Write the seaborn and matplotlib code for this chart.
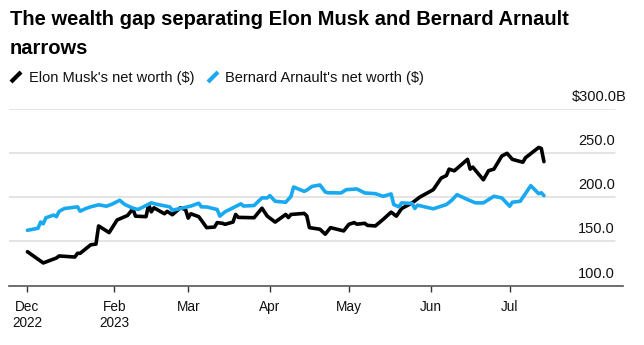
import matplotlib
matplotlib.use("Agg")
import matplotlib.pyplot as plt
import matplotlib.transforms as mtransforms
from matplotlib.lines import Line2D
import seaborn as sns
import pandas as pd

# ---- data ----
musk_dates = [
    "2022-12-30", "2023-01-05", "2023-01-09", "2023-01-10", "2023-01-11", "2023-01-17",
    "2023-01-18", "2023-01-19", "2023-01-23", "2023-01-25", "2023-01-26", "2023-01-30",
    "2023-02-02", "2023-02-06", "2023-02-08", "2023-02-09", "2023-02-13", "2023-02-14",
    "2023-02-15", "2023-02-16", "2023-02-20", "2023-02-21", "2023-02-23", "2023-02-26",
    "2023-02-28", "2023-03-01", "2023-03-02", "2023-03-05", "2023-03-06", "2023-03-08",
    "2023-03-11", "2023-03-12", "2023-03-14", "2023-03-15", "2023-03-18", "2023-03-19",
    "2023-03-20", "2023-03-26", "2023-03-29", "2023-03-31", "2023-04-03", "2023-04-07",
    "2023-04-08", "2023-04-09", "2023-04-14", "2023-04-15", "2023-04-16", "2023-04-20",
    "2023-04-22", "2023-04-24", "2023-04-29", "2023-05-01", "2023-05-03", "2023-05-04",
    "2023-05-07", "2023-05-08", "2023-05-11", "2023-05-14", "2023-05-17", "2023-05-19",
    "2023-05-21", "2023-05-25", "2023-05-28", "2023-06-02", "2023-06-05", "2023-06-07",
    "2023-06-08", "2023-06-10", "2023-06-15", "2023-06-16", "2023-06-17", "2023-06-21",
    "2023-06-23", "2023-06-25", "2023-06-28", "2023-06-30", "2023-07-02", "2023-07-06",
    "2023-07-07", "2023-07-12", "2023-07-13", "2023-07-14",
]
musk_values = [
    138.4, 125.7, 130.2, 131.3, 133.6, 132.4,
    136.6, 136.6, 146.2, 147.0, 167.5, 160.0,
    174.2, 179.4, 186.9, 178.6, 178.0, 191.7,
    183.5, 188.0, 181.3, 184.0, 180.2, 188.0,
    186.0, 176.4, 181.3, 178.0, 174.0, 165.6,
    166.3, 171.3, 170.5, 169.4, 171.9, 180.5,
    177.2, 176.8, 187.6, 178.6, 171.9, 180.5,
    177.0, 180.5, 181.7, 179.0, 165.6, 163.8,
    158.2, 165.6, 161.9, 169.4, 171.3, 169.5,
    170.5, 168.2, 167.5, 175.0, 183.1, 178.6,
    187.2, 193.6, 200.3, 208.5, 221.6, 224.5,
    231.7, 229.8, 242.8, 231.7, 234.0, 219.7,
    230.0, 231.7, 246.5, 249.6, 242.8, 239.5,
    244.6, 256.2, 255.1, 240.2,
]

arnault_dates = [
    "2022-12-30", "2023-01-03", "2023-01-04", "2023-01-05", "2023-01-06", "2023-01-09",
    "2023-01-10", "2023-01-11", "2023-01-13", "2023-01-18", "2023-01-19", "2023-01-21",
    "2023-01-23", "2023-01-26", "2023-01-29", "2023-01-31", "2023-02-03", "2023-02-05",
    "2023-02-08", "2023-02-10", "2023-02-15", "2023-02-17", "2023-02-22", "2023-02-23",
    "2023-02-26", "2023-03-02", "2023-03-05", "2023-03-06", "2023-03-08", "2023-03-12",
    "2023-03-13", "2023-03-15", "2023-03-18", "2023-03-21", "2023-03-22", "2023-03-26",
    "2023-03-29", "2023-03-31", "2023-04-01", "2023-04-03", "2023-04-07", "2023-04-09",
    "2023-04-10", "2023-04-14", "2023-04-15", "2023-04-17", "2023-04-20", "2023-04-22",
    "2023-04-23", "2023-04-28", "2023-04-30", "2023-05-04", "2023-05-07", "2023-05-11",
    "2023-05-14", "2023-05-17", "2023-05-18", "2023-05-20", "2023-05-21", "2023-05-25",
    "2023-05-26", "2023-05-27", "2023-06-02", "2023-06-07", "2023-06-09", "2023-06-11",
    "2023-06-15", "2023-06-18", "2023-06-21", "2023-06-25", "2023-06-28", "2023-07-01",
    "2023-07-02", "2023-07-05", "2023-07-09", "2023-07-12", "2023-07-13", "2023-07-14",
]
arnault_values = [
    162.6, 164.9, 171.9, 170.0, 176.8, 179.8,
    178.0, 183.9, 187.2, 189.1, 184.2, 187.0,
    189.1, 191.4, 189.8, 192.0, 196.5, 191.7,
    187.6, 186.1, 193.6, 192.0, 189.1, 185.3,
    187.2, 190.0, 193.2, 189.1, 189.0, 186.1,
    178.6, 183.5, 188.0, 192.5, 190.0, 190.6,
    199.2, 199.2, 201.8, 195.4, 194.3, 200.9,
    211.5, 206.6, 208.0, 212.2, 213.8, 205.9,
    205.0, 204.8, 208.5, 209.3, 204.8, 204.0,
    201.0, 203.7, 191.7, 189.1, 193.6, 192.8,
    187.2, 191.0, 186.9, 191.7, 196.5, 202.9,
    197.3, 193.6, 193.6, 201.0, 199.2, 189.8,
    194.3, 195.4, 213.0, 204.0, 205.0, 201.8,
]

series_names = ["Elon Musk's net worth ($)", "Bernard Arnault's net worth ($)"]
series_colors = ["#000000", "#18A9F0"]

y_ticks = [100, 150, 200, 250, 300]
y_tick_labels = ["100.0", "150.0", "200.0", "250.0", "$300.0B"]

x_tick_dates = ["2022-12-30", "2023-02-01", "2023-03-01", "2023-04-01",
                "2023-05-01", "2023-06-01", "2023-07-01"]
x_tick_labels = ["Dec\n2022", "Feb\n2023", "Mar", "Apr", "May", "Jun", "Jul"]

title_lines = ["The wealth gap separating Elon Musk and Bernard Arnault", "narrows"]

# ---- build long table ----
df = pd.concat([
    pd.DataFrame({"date": pd.to_datetime(musk_dates), "value": musk_values,
                  "series": series_names[0]}),
    pd.DataFrame({"date": pd.to_datetime(arnault_dates), "value": arnault_values,
                  "series": series_names[1]}),
], ignore_index=True)

sns.set_style("white")
plt.rcParams["font.family"] = ["Liberation Sans", "DejaVu Sans"]

W, H = 644, 345
fig = plt.figure(figsize=(W / 100, H / 100), dpi=100)
ax = fig.add_axes([9 / W, 1 - 285.7 / H, 614 / W, (285.7 - 108.7) / H])

# gridlines (end a bit before the right end of the axis line)
grid_end = (615 - 9) / 614
for v in y_ticks[1:]:
    ax.axhline(v, xmin=0, xmax=grid_end, color="#dcdcdc", lw=1.1, zorder=0)

sns.lineplot(data=df, x="date", y="value", hue="series", hue_order=series_names,
             palette=dict(zip(series_names, series_colors)), linewidth=2.6,
             legend=False, ax=ax, estimator=None, sort=True)

ax.set_ylim(100, 300)
ax.set_xlim(pd.Timestamp("2022-12-23"), pd.Timestamp("2023-08-13"))
ax.set_xlabel("")
ax.set_ylabel("")
ax.set_yticks([])

for s in ["top", "left", "right"]:
    ax.spines[s].set_visible(False)
ax.spines["bottom"].set_color("#555555")
ax.spines["bottom"].set_linewidth(1.2)

ax.set_xticks(pd.to_datetime(x_tick_dates))
ax.set_xticklabels(x_tick_labels, fontsize=9.8, linespacing=1.25, color="#111111")
ax.tick_params(axis="x", direction="out", length=4, width=1, color="#333333", pad=6,
               bottom=True)

# y labels above gridlines, right aligned
trans = mtransforms.blended_transform_factory(ax.transAxes, ax.transData)
trans_up = mtransforms.offset_copy(trans, fig=fig, x=0, y=8, units="dots")
for v, lab in zip(y_ticks, y_tick_labels):
    xr = grid_end if not lab.endswith("B") else (627 - 9) / 614
    ax.text(xr, v, lab, transform=trans_up, ha="right", va="baseline",
            fontsize=10.5, color="#111111")

# title
fig.text(10 / W, 1 - 25 / H, title_lines[0], fontsize=14.5, fontweight="bold",
         ha="left", va="baseline", color="#000000")
fig.text(10 / W, 1 - 54 / H, title_lines[1], fontsize=14.5, fontweight="bold",
         ha="left", va="baseline", color="#000000")

# legend: slash markers + labels
leg_x = [(11, 29), (208, 225)]
for (mx, tx), name, col in zip(leg_x, series_names, series_colors):
    fig.add_artist(Line2D([mx / W, (mx + 10) / W], [1 - 82 / H, 1 - 72 / H],
                          transform=fig.transFigure, color=col, lw=3,
                          solid_capstyle="butt"))
    fig.text(tx / W, 1 - 82 / H, name, fontsize=10.5, ha="left", va="baseline",
             color="#111111")

fig.savefig("out.png", dpi=100)
